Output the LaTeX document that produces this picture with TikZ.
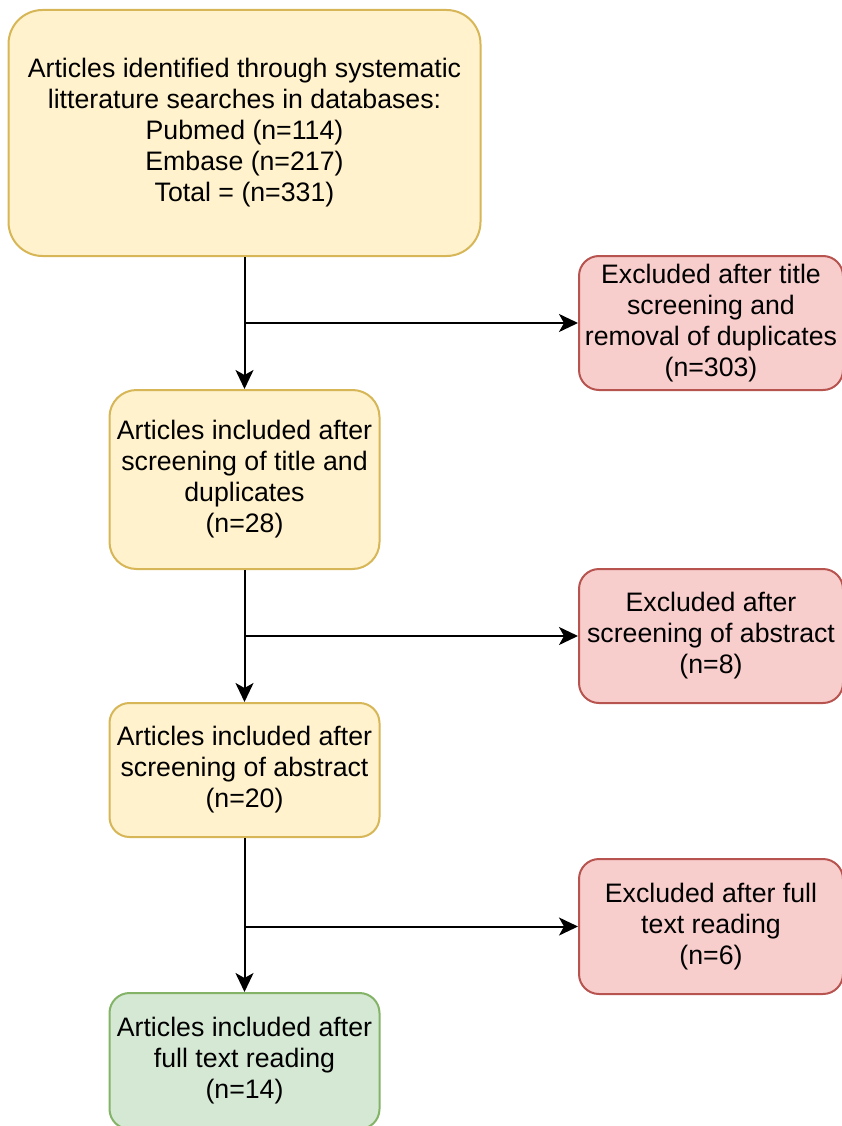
\documentclass[tikz,border=0pt]{standalone}
\usepackage{fontspec}
\setmainfont{Liberation Sans}
\usetikzlibrary{arrows.meta}
\definecolor{r255g242b204}{RGB}{255,242,204}%
\definecolor{r214g182b86}{RGB}{214,182,86}%
\definecolor{r248g206b204}{RGB}{248,206,204}%
\definecolor{r184g84b80}{RGB}{184,84,80}%
\definecolor{r213g232b212}{RGB}{213,232,212}%
\definecolor{r130g179b102}{RGB}{130,179,102}%
\begin{document}
\begin{tikzpicture}[x=1pt,y=-1pt,
  yellowbox/.style={draw=r214g182b86,fill=r255g242b204,line width=2pt,rounded corners=24pt,
    inner sep=0pt,align=center,minimum width=270pt},
  redbox/.style={draw=r184g84b80,fill=r248g206b204,line width=2pt,rounded corners=20pt,
    inner sep=0pt,align=center,minimum width=264pt,minimum height=134pt},
  greenbox/.style={draw=r130g179b102,fill=r213g232b212,line width=2pt,rounded corners=20pt,
    inner sep=0pt,align=center,minimum width=270pt,minimum height=136pt},
  flow/.style={line width=2pt,-{Stealth[length=19pt,width=18pt,inset=5pt]}}]
                            \useasboundingbox (0,0) rectangle (841,1126);
                            {\fontsize{26.7}{31}\selectfont

                            % Box of identified articles
                            \node [yellowbox,minimum width=472pt,minimum height=246pt,rounded corners=34pt] (found) at (244.5,133)
                              {Articles identified through systematic\\litterature searches in databases:\\Pubmed (n=114)\\Embase (n=217)\\Total = (n=331)};%

                            % Box after title screening
                            \node [yellowbox,minimum height=179pt,rounded corners=27pt] (titled) at (244.5,479.5)
                              {Articles included after\\screening of title and\\duplicates\\(n=28)};%

                            % Box after abstract screening
                            \node [yellowbox,minimum height=134pt,rounded corners=20pt] (abstr) at (244.5,770)
                              {Articles included after\\screening of abstract\\(n=20)};%

                            % Box after full text reading
                            \node [greenbox] (fulltext) at (244.5,1061)
                              {Articles included after\\full text reading\\(n=14)};%

                            % Excluded boxes
                            \node [redbox] (exone) at (711,323)
                              {Excluded after title\\screening and\\removal of duplicates\\(n=303)};%
                            \node [redbox] (extwo) at (711,636)
                              {Excluded after\\screening of abstract\\(n=8)};%
                            \node [redbox,minimum height=135pt] (exthree) at (711,926.5)
                              {Excluded after full\\text reading\\(n=6)};%

                            % Drawing main flow
                            \draw [flow] (found.south) -- (titled.north);%
                            \draw [flow] (titled.south) -- (abstr.north);%
                            \draw [flow] (abstr.south) -- (fulltext.north);%

                            % Drawing branches to the excluded boxes
                            \draw [flow] (found.south |- exone.west) -- (exone.west);%
                            \draw [flow] (titled.south |- extwo.west) -- (extwo.west);%
                            \draw [flow] (abstr.south |- exthree.west) -- (exthree.west);%
                            }
                        \end{tikzpicture}
\end{document}
